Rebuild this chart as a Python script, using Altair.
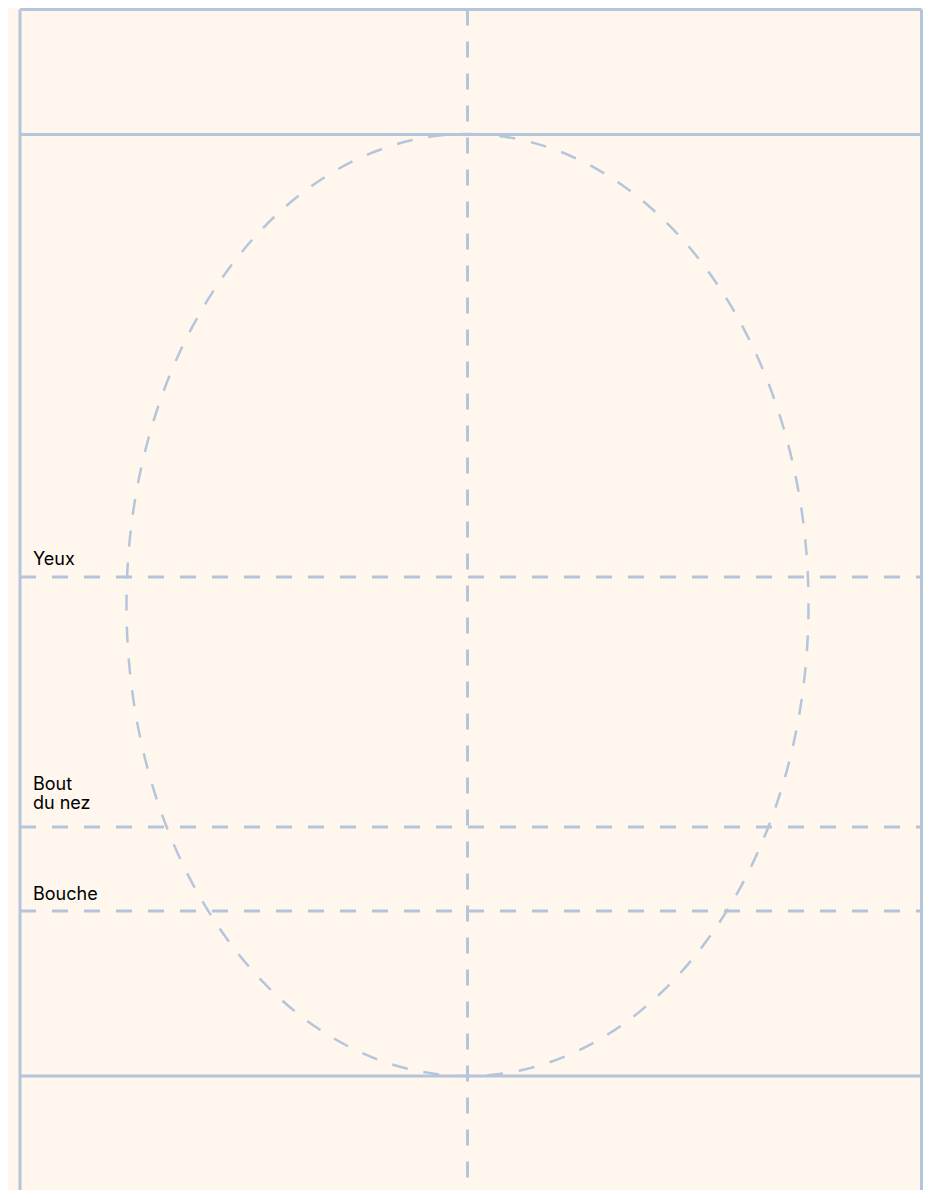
import altair as alt
import pandas as pd

# Diagram geometry, in reference-page pixel units (y grows downwards)
label_names = ["Yeux", "Bout\ndu nez", "Bouche"]
label_line_y = [577, 827, 911]          # dashed guide levels
label_text_y = [565, 790, 900]          # text baselines (first line)
label_x = [33, 33, 33]

frame_top = [9.5]
frame_rows = [134.5, 1076]              # solid horizontal lines (face top / chin)
frame_cols = [20, 921.5]                # solid vertical borders
frame_left, frame_right, frame_bottom = 20, 921.5, 1190

center_x = [467.5]                      # dashed vertical axis of symmetry
face_cx, face_cy = [467.5], [605]
face_rx, face_ry = 341, 471

LINE = "#b5c5dc"
BG = "#fff6ed"

X = alt.Scale(domain=[8, 923], range=[0, 915])
Y = alt.Scale(domain=[8, 1190], reverse=True)

def xenc(f):
    return alt.X(f, type="quantitative", scale=X, axis=None)

def yenc(f):
    return alt.Y(f, type="quantitative", scale=Y, axis=None)

solid_h = pd.DataFrame({
    "y": frame_top + frame_rows,
    "x1": [frame_left] * (len(frame_top) + len(frame_rows)),
    "x2": [frame_right] * (len(frame_top) + len(frame_rows)),
})
solid_v = pd.DataFrame({
    "x": frame_cols,
    "y1": [frame_top[0]] * len(frame_cols),
    "y2": [frame_bottom] * len(frame_cols),
})
dash_h = pd.DataFrame({
    "y": label_line_y,
    "x1": [frame_left] * len(label_line_y),
    "x2": [frame_right] * len(label_line_y),
})
dash_v = pd.DataFrame({"x": center_x, "y1": frame_top, "y2": [frame_bottom]})
labels = pd.DataFrame({"x": label_x, "y": label_text_y, "t": label_names})
face = pd.DataFrame({"x": face_cx, "y": face_cy})

k = face_rx / face_ry
shape = f"M 0 -1 A {k:.4f} 1 0 1 1 0 1 A {k:.4f} 1 0 1 1 0 -1 Z"

l_dash_h = alt.Chart(dash_h).mark_rule(
    color=LINE, strokeWidth=3, strokeDash=[16, 16]
).encode(y=yenc("y"), x=xenc("x1"), x2="x2")

l_dash_v = alt.Chart(dash_v).mark_rule(
    color=LINE, strokeWidth=3, strokeDash=[16, 16]
).encode(x=xenc("x"), y=yenc("y1"), y2="y2")

l_face = alt.Chart(face).mark_point(
    shape=shape, size=(2 * face_ry) ** 2, filled=False,
    stroke=LINE, strokeWidth=2.5, strokeDash=[16, 16], opacity=1
).encode(x=xenc("x"), y=yenc("y"))

l_solid_h = alt.Chart(solid_h).mark_rule(
    color=LINE, strokeWidth=3
).encode(y=yenc("y"), x=xenc("x1"), x2="x2")

l_solid_v = alt.Chart(solid_v).mark_rule(
    color=LINE, strokeWidth=3
).encode(x=xenc("x"), y=yenc("y1"), y2="y2")

l_text = alt.Chart(labels).mark_text(
    align="left", baseline="alphabetic", font="Inter", fontSize=18,
    lineHeight=19, lineBreak="\n", color="#000000"
).encode(x=xenc("x"), y=yenc("y"), text="t:N")

chart = alt.layer(
    l_dash_h, l_dash_v, l_face, l_solid_h, l_solid_v, l_text
).properties(
    width=915, height=1182,
    autosize=alt.AutoSizeParams(type="none"),
    padding=0,
    background=BG,
).configure_view(stroke=None)

chart.save("out.html", embed_options={"renderer": "svg", "actions": False})
